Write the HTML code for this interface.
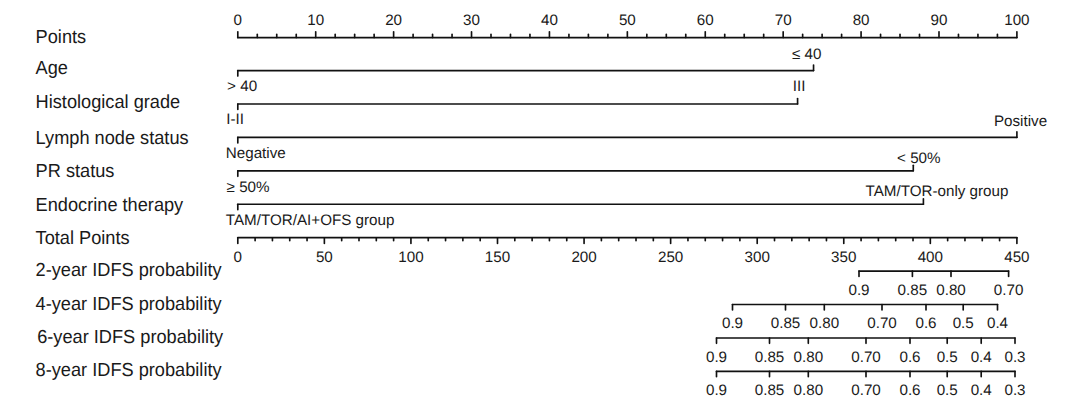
<!DOCTYPE html>
<html><head><meta charset="utf-8"><title>Nomogram</title>
<style>
html,body{margin:0;padding:0;background:#fff;}
body{width:1080px;height:412px;overflow:hidden;}
svg{display:block;font-family:"Liberation Sans",sans-serif;fill:#1a1a1a;text-rendering:geometricPrecision;}
</style></head><body>
<svg width="1080" height="412" viewBox="0 0 1080 412">
<rect width="1080" height="412" fill="#ffffff"/>
<text transform="translate(35.60,43.45) scale(1,1.04)" font-size="18.2" text-anchor="start">Points</text>
<text transform="translate(35.60,73.75) scale(1,1.04)" font-size="18.2" text-anchor="start">Age</text>
<text transform="translate(35.60,108.40) scale(1,1.04)" font-size="18.2" text-anchor="start">Histological grade</text>
<text transform="translate(35.60,144.40) scale(1,1.04)" font-size="18.2" text-anchor="start">Lymph node status</text>
<text transform="translate(35.60,176.90) scale(1,1.04)" font-size="18.2" text-anchor="start">PR status</text>
<text transform="translate(35.60,210.80) scale(1,1.04)" font-size="18.2" text-anchor="start">Endocrine therapy</text>
<text transform="translate(35.60,244.05) scale(1,1.04)" font-size="18.2" text-anchor="start">Total Points</text>
<text transform="translate(35.60,275.80) scale(1,1.04)" font-size="18.2" text-anchor="start">2-year IDFS probability</text>
<text transform="translate(35.60,309.50) scale(1,1.04)" font-size="18.2" text-anchor="start">4-year IDFS probability</text>
<text transform="translate(37.20,342.70) scale(1,1.04)" font-size="18.2" text-anchor="start">6-year IDFS probability</text>
<text transform="translate(35.60,375.70) scale(1,1.04)" font-size="18.2" text-anchor="start">8-year IDFS probability</text>
<line x1="237.80" y1="37.60" x2="1016.90" y2="37.60" stroke="#111" stroke-width="1.8" stroke-linecap="round"/>
<line x1="237.80" y1="37.60" x2="237.80" y2="31.80" stroke="#111" stroke-width="1.65" stroke-linecap="round"/>
<line x1="257.28" y1="37.60" x2="257.28" y2="34.40" stroke="#111" stroke-width="1.65" stroke-linecap="round"/>
<line x1="276.75" y1="37.60" x2="276.75" y2="34.40" stroke="#111" stroke-width="1.65" stroke-linecap="round"/>
<line x1="296.23" y1="37.60" x2="296.23" y2="34.40" stroke="#111" stroke-width="1.65" stroke-linecap="round"/>
<line x1="315.71" y1="37.60" x2="315.71" y2="31.80" stroke="#111" stroke-width="1.65" stroke-linecap="round"/>
<line x1="335.19" y1="37.60" x2="335.19" y2="34.40" stroke="#111" stroke-width="1.65" stroke-linecap="round"/>
<line x1="354.66" y1="37.60" x2="354.66" y2="34.40" stroke="#111" stroke-width="1.65" stroke-linecap="round"/>
<line x1="374.14" y1="37.60" x2="374.14" y2="34.40" stroke="#111" stroke-width="1.65" stroke-linecap="round"/>
<line x1="393.62" y1="37.60" x2="393.62" y2="31.80" stroke="#111" stroke-width="1.65" stroke-linecap="round"/>
<line x1="413.10" y1="37.60" x2="413.10" y2="34.40" stroke="#111" stroke-width="1.65" stroke-linecap="round"/>
<line x1="432.57" y1="37.60" x2="432.57" y2="34.40" stroke="#111" stroke-width="1.65" stroke-linecap="round"/>
<line x1="452.05" y1="37.60" x2="452.05" y2="34.40" stroke="#111" stroke-width="1.65" stroke-linecap="round"/>
<line x1="471.53" y1="37.60" x2="471.53" y2="31.80" stroke="#111" stroke-width="1.65" stroke-linecap="round"/>
<line x1="491.01" y1="37.60" x2="491.01" y2="34.40" stroke="#111" stroke-width="1.65" stroke-linecap="round"/>
<line x1="510.48" y1="37.60" x2="510.48" y2="34.40" stroke="#111" stroke-width="1.65" stroke-linecap="round"/>
<line x1="529.96" y1="37.60" x2="529.96" y2="34.40" stroke="#111" stroke-width="1.65" stroke-linecap="round"/>
<line x1="549.44" y1="37.60" x2="549.44" y2="31.80" stroke="#111" stroke-width="1.65" stroke-linecap="round"/>
<line x1="568.92" y1="37.60" x2="568.92" y2="34.40" stroke="#111" stroke-width="1.65" stroke-linecap="round"/>
<line x1="588.39" y1="37.60" x2="588.39" y2="34.40" stroke="#111" stroke-width="1.65" stroke-linecap="round"/>
<line x1="607.87" y1="37.60" x2="607.87" y2="34.40" stroke="#111" stroke-width="1.65" stroke-linecap="round"/>
<line x1="627.35" y1="37.60" x2="627.35" y2="31.80" stroke="#111" stroke-width="1.65" stroke-linecap="round"/>
<line x1="646.83" y1="37.60" x2="646.83" y2="34.40" stroke="#111" stroke-width="1.65" stroke-linecap="round"/>
<line x1="666.30" y1="37.60" x2="666.30" y2="34.40" stroke="#111" stroke-width="1.65" stroke-linecap="round"/>
<line x1="685.78" y1="37.60" x2="685.78" y2="34.40" stroke="#111" stroke-width="1.65" stroke-linecap="round"/>
<line x1="705.26" y1="37.60" x2="705.26" y2="31.80" stroke="#111" stroke-width="1.65" stroke-linecap="round"/>
<line x1="724.74" y1="37.60" x2="724.74" y2="34.40" stroke="#111" stroke-width="1.65" stroke-linecap="round"/>
<line x1="744.21" y1="37.60" x2="744.21" y2="34.40" stroke="#111" stroke-width="1.65" stroke-linecap="round"/>
<line x1="763.69" y1="37.60" x2="763.69" y2="34.40" stroke="#111" stroke-width="1.65" stroke-linecap="round"/>
<line x1="783.17" y1="37.60" x2="783.17" y2="31.80" stroke="#111" stroke-width="1.65" stroke-linecap="round"/>
<line x1="802.65" y1="37.60" x2="802.65" y2="34.40" stroke="#111" stroke-width="1.65" stroke-linecap="round"/>
<line x1="822.12" y1="37.60" x2="822.12" y2="34.40" stroke="#111" stroke-width="1.65" stroke-linecap="round"/>
<line x1="841.60" y1="37.60" x2="841.60" y2="34.40" stroke="#111" stroke-width="1.65" stroke-linecap="round"/>
<line x1="861.08" y1="37.60" x2="861.08" y2="31.80" stroke="#111" stroke-width="1.65" stroke-linecap="round"/>
<line x1="880.56" y1="37.60" x2="880.56" y2="34.40" stroke="#111" stroke-width="1.65" stroke-linecap="round"/>
<line x1="900.03" y1="37.60" x2="900.03" y2="34.40" stroke="#111" stroke-width="1.65" stroke-linecap="round"/>
<line x1="919.51" y1="37.60" x2="919.51" y2="34.40" stroke="#111" stroke-width="1.65" stroke-linecap="round"/>
<line x1="938.99" y1="37.60" x2="938.99" y2="31.80" stroke="#111" stroke-width="1.65" stroke-linecap="round"/>
<line x1="958.47" y1="37.60" x2="958.47" y2="34.40" stroke="#111" stroke-width="1.65" stroke-linecap="round"/>
<line x1="977.94" y1="37.60" x2="977.94" y2="34.40" stroke="#111" stroke-width="1.65" stroke-linecap="round"/>
<line x1="997.42" y1="37.60" x2="997.42" y2="34.40" stroke="#111" stroke-width="1.65" stroke-linecap="round"/>
<line x1="1016.90" y1="37.60" x2="1016.90" y2="31.80" stroke="#111" stroke-width="1.65" stroke-linecap="round"/>
<text x="237.80" y="24.55" font-size="15.2" text-anchor="middle">0</text>
<text x="315.71" y="24.55" font-size="15.2" text-anchor="middle">10</text>
<text x="393.62" y="24.55" font-size="15.2" text-anchor="middle">20</text>
<text x="471.53" y="24.55" font-size="15.2" text-anchor="middle">30</text>
<text x="549.44" y="24.55" font-size="15.2" text-anchor="middle">40</text>
<text x="627.35" y="24.55" font-size="15.2" text-anchor="middle">50</text>
<text x="705.26" y="24.55" font-size="15.2" text-anchor="middle">60</text>
<text x="783.17" y="24.55" font-size="15.2" text-anchor="middle">70</text>
<text x="861.08" y="24.55" font-size="15.2" text-anchor="middle">80</text>
<text x="938.99" y="24.55" font-size="15.2" text-anchor="middle">90</text>
<text x="1016.90" y="24.55" font-size="15.2" text-anchor="middle">100</text>
<line x1="237.80" y1="70.60" x2="813.55" y2="70.60" stroke="#111" stroke-width="1.65" stroke-linecap="round"/>
<line x1="237.80" y1="70.60" x2="237.80" y2="76.10" stroke="#111" stroke-width="1.65" stroke-linecap="round"/>
<line x1="813.55" y1="70.60" x2="813.55" y2="65.10" stroke="#111" stroke-width="1.65" stroke-linecap="round"/>
<text x="226.90" y="90.80" font-size="15.2" text-anchor="start" word-spacing="0.3">&gt; 40</text>
<text x="806.80" y="59.00" font-size="15.2" text-anchor="middle">≤ 40</text>
<line x1="237.80" y1="104.02" x2="797.58" y2="104.02" stroke="#111" stroke-width="1.65" stroke-linecap="round"/>
<line x1="237.80" y1="104.02" x2="237.80" y2="109.52" stroke="#111" stroke-width="1.65" stroke-linecap="round"/>
<line x1="797.58" y1="104.02" x2="797.58" y2="98.52" stroke="#111" stroke-width="1.65" stroke-linecap="round"/>
<text x="226.20" y="124.22" font-size="15.2" text-anchor="start" >I-II</text>
<text x="799.20" y="90.92" font-size="15.2" text-anchor="middle">III</text>
<line x1="237.80" y1="137.44" x2="1016.90" y2="137.44" stroke="#111" stroke-width="1.65" stroke-linecap="round"/>
<line x1="237.80" y1="137.44" x2="237.80" y2="142.94" stroke="#111" stroke-width="1.65" stroke-linecap="round"/>
<line x1="1016.90" y1="137.44" x2="1016.90" y2="131.94" stroke="#111" stroke-width="1.65" stroke-linecap="round"/>
<text x="225.80" y="157.64" font-size="15.2" text-anchor="start" >Negative</text>
<text x="1020.50" y="125.54" font-size="15.2" text-anchor="middle">Positive</text>
<line x1="237.80" y1="170.86" x2="913.28" y2="170.86" stroke="#111" stroke-width="1.65" stroke-linecap="round"/>
<line x1="237.80" y1="170.86" x2="237.80" y2="176.36" stroke="#111" stroke-width="1.65" stroke-linecap="round"/>
<line x1="913.28" y1="170.86" x2="913.28" y2="165.36" stroke="#111" stroke-width="1.65" stroke-linecap="round"/>
<text x="226.60" y="191.86" font-size="15.2" text-anchor="start" >≥ 50%</text>
<text x="918.80" y="162.96" font-size="15.2" text-anchor="middle">&lt; 50%</text>
<line x1="237.80" y1="204.28" x2="923.41" y2="204.28" stroke="#111" stroke-width="1.65" stroke-linecap="round"/>
<line x1="237.80" y1="204.28" x2="237.80" y2="209.78" stroke="#111" stroke-width="1.65" stroke-linecap="round"/>
<line x1="923.41" y1="204.28" x2="923.41" y2="198.78" stroke="#111" stroke-width="1.65" stroke-linecap="round"/>
<text x="225.80" y="224.68" font-size="15.2" text-anchor="start" >TAM/TOR/AI+OFS group</text>
<text x="937.00" y="195.98" font-size="15.2" text-anchor="middle">TAM/TOR-only group</text>
<line x1="237.80" y1="237.70" x2="1016.90" y2="237.70" stroke="#111" stroke-width="1.8" stroke-linecap="round"/>
<line x1="237.80" y1="237.70" x2="237.80" y2="243.40" stroke="#111" stroke-width="1.65" stroke-linecap="round"/>
<line x1="255.11" y1="237.70" x2="255.11" y2="240.70" stroke="#111" stroke-width="1.65" stroke-linecap="round"/>
<line x1="272.43" y1="237.70" x2="272.43" y2="240.70" stroke="#111" stroke-width="1.65" stroke-linecap="round"/>
<line x1="289.74" y1="237.70" x2="289.74" y2="240.70" stroke="#111" stroke-width="1.65" stroke-linecap="round"/>
<line x1="307.05" y1="237.70" x2="307.05" y2="240.70" stroke="#111" stroke-width="1.65" stroke-linecap="round"/>
<line x1="324.37" y1="237.70" x2="324.37" y2="243.40" stroke="#111" stroke-width="1.65" stroke-linecap="round"/>
<line x1="341.68" y1="237.70" x2="341.68" y2="240.70" stroke="#111" stroke-width="1.65" stroke-linecap="round"/>
<line x1="358.99" y1="237.70" x2="358.99" y2="240.70" stroke="#111" stroke-width="1.65" stroke-linecap="round"/>
<line x1="376.31" y1="237.70" x2="376.31" y2="240.70" stroke="#111" stroke-width="1.65" stroke-linecap="round"/>
<line x1="393.62" y1="237.70" x2="393.62" y2="240.70" stroke="#111" stroke-width="1.65" stroke-linecap="round"/>
<line x1="410.93" y1="237.70" x2="410.93" y2="243.40" stroke="#111" stroke-width="1.65" stroke-linecap="round"/>
<line x1="428.25" y1="237.70" x2="428.25" y2="240.70" stroke="#111" stroke-width="1.65" stroke-linecap="round"/>
<line x1="445.56" y1="237.70" x2="445.56" y2="240.70" stroke="#111" stroke-width="1.65" stroke-linecap="round"/>
<line x1="462.87" y1="237.70" x2="462.87" y2="240.70" stroke="#111" stroke-width="1.65" stroke-linecap="round"/>
<line x1="480.19" y1="237.70" x2="480.19" y2="240.70" stroke="#111" stroke-width="1.65" stroke-linecap="round"/>
<line x1="497.50" y1="237.70" x2="497.50" y2="243.40" stroke="#111" stroke-width="1.65" stroke-linecap="round"/>
<line x1="514.81" y1="237.70" x2="514.81" y2="240.70" stroke="#111" stroke-width="1.65" stroke-linecap="round"/>
<line x1="532.13" y1="237.70" x2="532.13" y2="240.70" stroke="#111" stroke-width="1.65" stroke-linecap="round"/>
<line x1="549.44" y1="237.70" x2="549.44" y2="240.70" stroke="#111" stroke-width="1.65" stroke-linecap="round"/>
<line x1="566.75" y1="237.70" x2="566.75" y2="240.70" stroke="#111" stroke-width="1.65" stroke-linecap="round"/>
<line x1="584.07" y1="237.70" x2="584.07" y2="243.40" stroke="#111" stroke-width="1.65" stroke-linecap="round"/>
<line x1="601.38" y1="237.70" x2="601.38" y2="240.70" stroke="#111" stroke-width="1.65" stroke-linecap="round"/>
<line x1="618.69" y1="237.70" x2="618.69" y2="240.70" stroke="#111" stroke-width="1.65" stroke-linecap="round"/>
<line x1="636.01" y1="237.70" x2="636.01" y2="240.70" stroke="#111" stroke-width="1.65" stroke-linecap="round"/>
<line x1="653.32" y1="237.70" x2="653.32" y2="240.70" stroke="#111" stroke-width="1.65" stroke-linecap="round"/>
<line x1="670.63" y1="237.70" x2="670.63" y2="243.40" stroke="#111" stroke-width="1.65" stroke-linecap="round"/>
<line x1="687.95" y1="237.70" x2="687.95" y2="240.70" stroke="#111" stroke-width="1.65" stroke-linecap="round"/>
<line x1="705.26" y1="237.70" x2="705.26" y2="240.70" stroke="#111" stroke-width="1.65" stroke-linecap="round"/>
<line x1="722.57" y1="237.70" x2="722.57" y2="240.70" stroke="#111" stroke-width="1.65" stroke-linecap="round"/>
<line x1="739.89" y1="237.70" x2="739.89" y2="240.70" stroke="#111" stroke-width="1.65" stroke-linecap="round"/>
<line x1="757.20" y1="237.70" x2="757.20" y2="243.40" stroke="#111" stroke-width="1.65" stroke-linecap="round"/>
<line x1="774.51" y1="237.70" x2="774.51" y2="240.70" stroke="#111" stroke-width="1.65" stroke-linecap="round"/>
<line x1="791.83" y1="237.70" x2="791.83" y2="240.70" stroke="#111" stroke-width="1.65" stroke-linecap="round"/>
<line x1="809.14" y1="237.70" x2="809.14" y2="240.70" stroke="#111" stroke-width="1.65" stroke-linecap="round"/>
<line x1="826.45" y1="237.70" x2="826.45" y2="240.70" stroke="#111" stroke-width="1.65" stroke-linecap="round"/>
<line x1="843.77" y1="237.70" x2="843.77" y2="243.40" stroke="#111" stroke-width="1.65" stroke-linecap="round"/>
<line x1="861.08" y1="237.70" x2="861.08" y2="240.70" stroke="#111" stroke-width="1.65" stroke-linecap="round"/>
<line x1="878.39" y1="237.70" x2="878.39" y2="240.70" stroke="#111" stroke-width="1.65" stroke-linecap="round"/>
<line x1="895.71" y1="237.70" x2="895.71" y2="240.70" stroke="#111" stroke-width="1.65" stroke-linecap="round"/>
<line x1="913.02" y1="237.70" x2="913.02" y2="240.70" stroke="#111" stroke-width="1.65" stroke-linecap="round"/>
<line x1="930.33" y1="237.70" x2="930.33" y2="243.40" stroke="#111" stroke-width="1.65" stroke-linecap="round"/>
<line x1="947.65" y1="237.70" x2="947.65" y2="240.70" stroke="#111" stroke-width="1.65" stroke-linecap="round"/>
<line x1="964.96" y1="237.70" x2="964.96" y2="240.70" stroke="#111" stroke-width="1.65" stroke-linecap="round"/>
<line x1="982.27" y1="237.70" x2="982.27" y2="240.70" stroke="#111" stroke-width="1.65" stroke-linecap="round"/>
<line x1="999.59" y1="237.70" x2="999.59" y2="240.70" stroke="#111" stroke-width="1.65" stroke-linecap="round"/>
<line x1="1016.90" y1="237.70" x2="1016.90" y2="243.40" stroke="#111" stroke-width="1.65" stroke-linecap="round"/>
<text x="237.80" y="261.50" font-size="15.2" text-anchor="middle">0</text>
<text x="324.37" y="261.50" font-size="15.2" text-anchor="middle">50</text>
<text x="410.93" y="261.50" font-size="15.2" text-anchor="middle">100</text>
<text x="497.50" y="261.50" font-size="15.2" text-anchor="middle">150</text>
<text x="584.07" y="261.50" font-size="15.2" text-anchor="middle">200</text>
<text x="670.63" y="261.50" font-size="15.2" text-anchor="middle">250</text>
<text x="757.20" y="261.50" font-size="15.2" text-anchor="middle">300</text>
<text x="843.77" y="261.50" font-size="15.2" text-anchor="middle">350</text>
<text x="930.33" y="261.50" font-size="15.2" text-anchor="middle">400</text>
<text x="1016.90" y="261.50" font-size="15.2" text-anchor="middle">450</text>
<line x1="859.00" y1="271.12" x2="1008.60" y2="271.12" stroke="#111" stroke-width="1.65" stroke-linecap="round"/>
<line x1="859.00" y1="271.12" x2="859.00" y2="276.52" stroke="#111" stroke-width="1.65" stroke-linecap="round"/>
<text x="859.00" y="294.82" font-size="15.2" text-anchor="middle">0.9</text>
<line x1="912.40" y1="271.12" x2="912.40" y2="276.52" stroke="#111" stroke-width="1.65" stroke-linecap="round"/>
<text x="912.40" y="294.82" font-size="15.2" text-anchor="middle">0.85</text>
<line x1="951.00" y1="271.12" x2="951.00" y2="276.52" stroke="#111" stroke-width="1.65" stroke-linecap="round"/>
<text x="951.00" y="294.82" font-size="15.2" text-anchor="middle">0.80</text>
<line x1="1008.60" y1="271.12" x2="1008.60" y2="276.52" stroke="#111" stroke-width="1.65" stroke-linecap="round"/>
<text x="1008.60" y="294.82" font-size="15.2" text-anchor="middle">0.70</text>
<line x1="732.50" y1="304.54" x2="997.50" y2="304.54" stroke="#111" stroke-width="1.65" stroke-linecap="round"/>
<line x1="732.50" y1="304.54" x2="732.50" y2="309.94" stroke="#111" stroke-width="1.65" stroke-linecap="round"/>
<text x="732.50" y="328.24" font-size="15.2" text-anchor="middle">0.9</text>
<line x1="785.50" y1="304.54" x2="785.50" y2="309.94" stroke="#111" stroke-width="1.65" stroke-linecap="round"/>
<text x="785.50" y="328.24" font-size="15.2" text-anchor="middle">0.85</text>
<line x1="824.30" y1="304.54" x2="824.30" y2="309.94" stroke="#111" stroke-width="1.65" stroke-linecap="round"/>
<text x="824.30" y="328.24" font-size="15.2" text-anchor="middle">0.80</text>
<line x1="882.00" y1="304.54" x2="882.00" y2="309.94" stroke="#111" stroke-width="1.65" stroke-linecap="round"/>
<text x="882.00" y="328.24" font-size="15.2" text-anchor="middle">0.70</text>
<line x1="926.00" y1="304.54" x2="926.00" y2="309.94" stroke="#111" stroke-width="1.65" stroke-linecap="round"/>
<text x="926.00" y="328.24" font-size="15.2" text-anchor="middle">0.6</text>
<line x1="963.20" y1="304.54" x2="963.20" y2="309.94" stroke="#111" stroke-width="1.65" stroke-linecap="round"/>
<text x="963.20" y="328.24" font-size="15.2" text-anchor="middle">0.5</text>
<line x1="997.50" y1="304.54" x2="997.50" y2="309.94" stroke="#111" stroke-width="1.65" stroke-linecap="round"/>
<text x="997.50" y="328.24" font-size="15.2" text-anchor="middle">0.4</text>
<line x1="716.50" y1="337.96" x2="1015.00" y2="337.96" stroke="#111" stroke-width="1.65" stroke-linecap="round"/>
<line x1="716.50" y1="337.96" x2="716.50" y2="343.36" stroke="#111" stroke-width="1.65" stroke-linecap="round"/>
<text x="716.50" y="361.66" font-size="15.2" text-anchor="middle">0.9</text>
<line x1="769.50" y1="337.96" x2="769.50" y2="343.36" stroke="#111" stroke-width="1.65" stroke-linecap="round"/>
<text x="769.50" y="361.66" font-size="15.2" text-anchor="middle">0.85</text>
<line x1="808.30" y1="337.96" x2="808.30" y2="343.36" stroke="#111" stroke-width="1.65" stroke-linecap="round"/>
<text x="808.30" y="361.66" font-size="15.2" text-anchor="middle">0.80</text>
<line x1="866.00" y1="337.96" x2="866.00" y2="343.36" stroke="#111" stroke-width="1.65" stroke-linecap="round"/>
<text x="866.00" y="361.66" font-size="15.2" text-anchor="middle">0.70</text>
<line x1="910.00" y1="337.96" x2="910.00" y2="343.36" stroke="#111" stroke-width="1.65" stroke-linecap="round"/>
<text x="910.00" y="361.66" font-size="15.2" text-anchor="middle">0.6</text>
<line x1="947.20" y1="337.96" x2="947.20" y2="343.36" stroke="#111" stroke-width="1.65" stroke-linecap="round"/>
<text x="947.20" y="361.66" font-size="15.2" text-anchor="middle">0.5</text>
<line x1="981.20" y1="337.96" x2="981.20" y2="343.36" stroke="#111" stroke-width="1.65" stroke-linecap="round"/>
<text x="981.20" y="361.66" font-size="15.2" text-anchor="middle">0.4</text>
<line x1="1015.00" y1="337.96" x2="1015.00" y2="343.36" stroke="#111" stroke-width="1.65" stroke-linecap="round"/>
<text x="1015.00" y="361.66" font-size="15.2" text-anchor="middle">0.3</text>
<line x1="716.50" y1="371.38" x2="1015.00" y2="371.38" stroke="#111" stroke-width="1.65" stroke-linecap="round"/>
<line x1="716.50" y1="371.38" x2="716.50" y2="376.78" stroke="#111" stroke-width="1.65" stroke-linecap="round"/>
<text x="716.50" y="395.08" font-size="15.2" text-anchor="middle">0.9</text>
<line x1="769.50" y1="371.38" x2="769.50" y2="376.78" stroke="#111" stroke-width="1.65" stroke-linecap="round"/>
<text x="769.50" y="395.08" font-size="15.2" text-anchor="middle">0.85</text>
<line x1="808.30" y1="371.38" x2="808.30" y2="376.78" stroke="#111" stroke-width="1.65" stroke-linecap="round"/>
<text x="808.30" y="395.08" font-size="15.2" text-anchor="middle">0.80</text>
<line x1="866.00" y1="371.38" x2="866.00" y2="376.78" stroke="#111" stroke-width="1.65" stroke-linecap="round"/>
<text x="866.00" y="395.08" font-size="15.2" text-anchor="middle">0.70</text>
<line x1="910.00" y1="371.38" x2="910.00" y2="376.78" stroke="#111" stroke-width="1.65" stroke-linecap="round"/>
<text x="910.00" y="395.08" font-size="15.2" text-anchor="middle">0.6</text>
<line x1="947.20" y1="371.38" x2="947.20" y2="376.78" stroke="#111" stroke-width="1.65" stroke-linecap="round"/>
<text x="947.20" y="395.08" font-size="15.2" text-anchor="middle">0.5</text>
<line x1="981.20" y1="371.38" x2="981.20" y2="376.78" stroke="#111" stroke-width="1.65" stroke-linecap="round"/>
<text x="981.20" y="395.08" font-size="15.2" text-anchor="middle">0.4</text>
<line x1="1015.00" y1="371.38" x2="1015.00" y2="376.78" stroke="#111" stroke-width="1.65" stroke-linecap="round"/>
<text x="1015.00" y="395.08" font-size="15.2" text-anchor="middle">0.3</text>
</svg>
</body></html>
